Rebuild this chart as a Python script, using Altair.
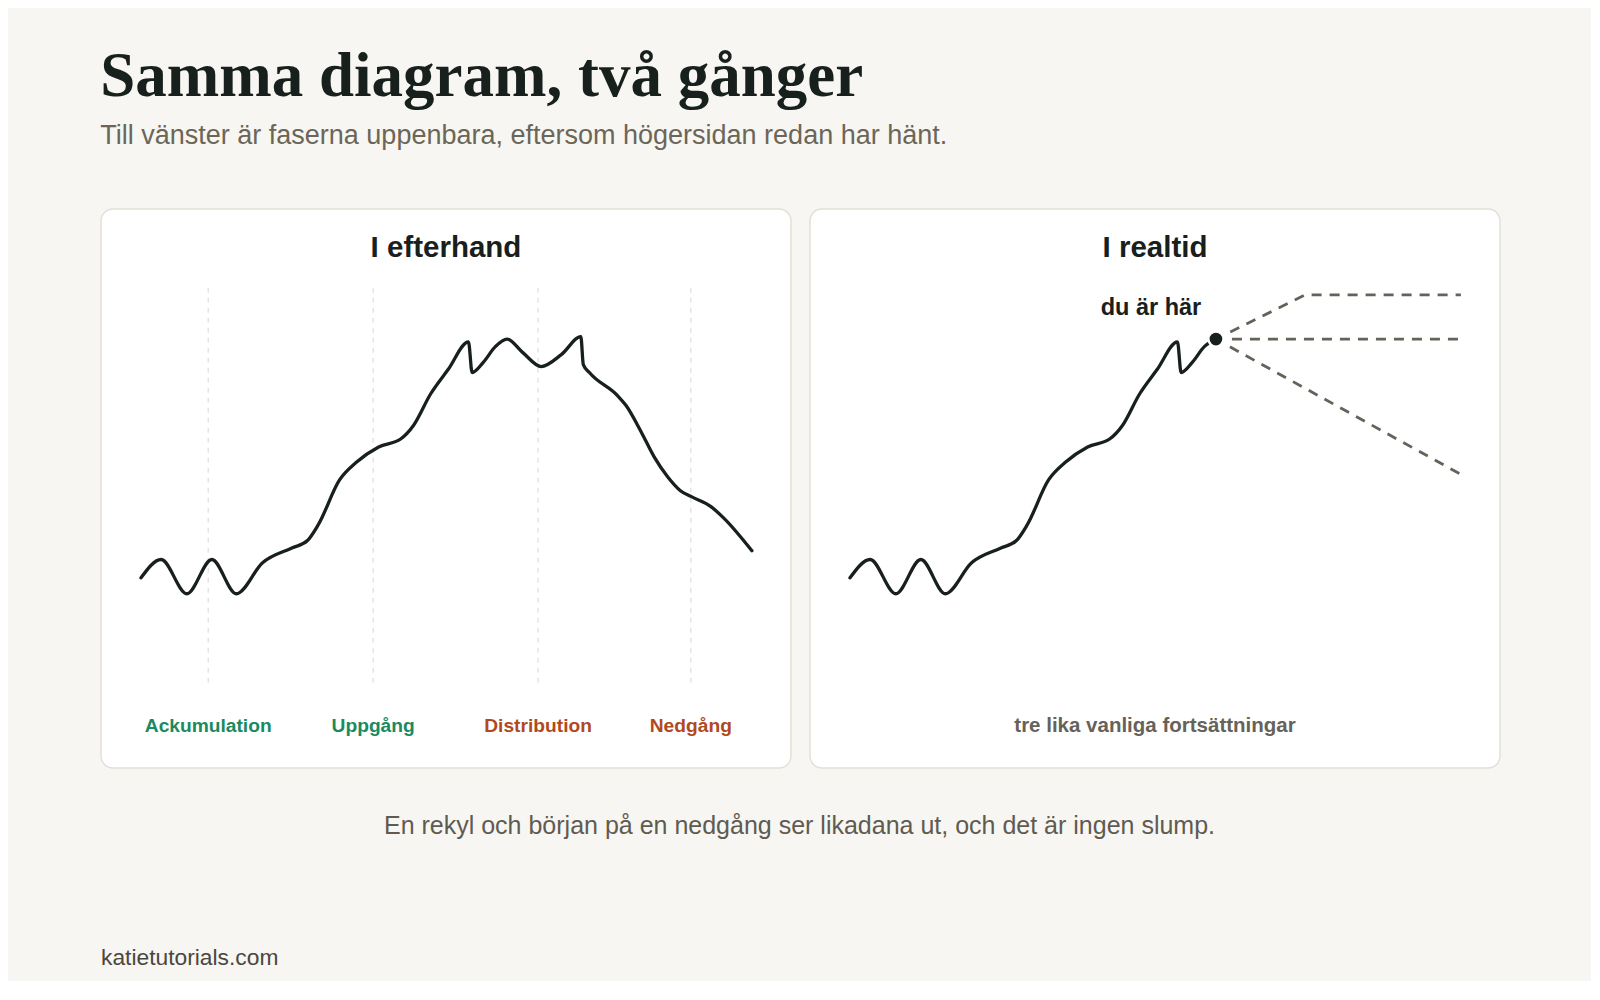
"""Same chart, twice: hindsight vs real time."""

import altair as alt
import pandas as pd

# price path (t = time 0-100, v = level 0-100)
path_t = [0, 3.3, 7.5, 11.6, 15.6, 19.9, 24.7, 27.2, 29.0, 32.5, 35.3, 38.9,
          42.5, 44.6, 47.4, 50.3, 53.6, 54.2, 56.0, 58.0, 59.9, 62.5, 65.5,
          68.8, 72.0, 72.4, 73.4, 78.0, 79.4, 81.9, 84.0, 86.2, 88.3, 90.1,
          93.3, 95.4, 100]
path_v = [26.4, 31.0, 22.4, 31.0, 22.4, 30.2, 33.9, 35.7, 39.7, 51.0, 55.5,
          59.3, 61.3, 64.7, 72.6, 78.8, 85.7, 78.0, 80.5, 84.5, 86.4, 83.0,
          79.5, 82.5, 87.0, 80.0, 78.0, 72.2, 69.7, 63.0, 56.8, 51.8, 48.3,
          46.8, 44.3, 41.4, 33.2]
now_t = 59.9

# phases in hindsight
phase_names = ["Ackumulation", "Uppgång", "Distribution", "Nedgång"]
phase_t = [11, 38, 65, 90]
phase_colors = ["#1a8a60", "#1a8a60", "#b04a1e", "#b04a1e"]

# three continuations from "now"
scen_id = ["upp", "upp", "upp", "flat", "flat", "ned", "ned"]
scen_t = [59.9, 74.5, 100, 59.9, 100, 59.9, 100]
scen_v = [86.4, 97.5, 97.5, 86.4, 86.4, 86.4, 52.4]

W, H = 690, 559
GAP = 17
FULL_W = 2 * W + GAP
INK = "#17201c"
MUTED = "#66625a"
SANS = "Liberation Sans"

xs = alt.Scale(domain=[-6.55, 106.4], nice=False, zero=False)
ys = alt.Scale(domain=[-21.4, 119.1], nice=False, zero=False)

df_path = pd.DataFrame({"t": path_t, "v": path_v})
df_now = df_path[df_path["t"] <= now_t]
df_dot = df_path[df_path["t"] == now_t].assign(label="du är här")
df_phase = pd.DataFrame({"name": phase_names, "t": phase_t, "color": phase_colors})
df_phase["lo"] = 0
df_phase["hi"] = 100
df_scen = pd.DataFrame({"id": scen_id, "t": scen_t, "v": scen_v})

no_view = alt.ViewBackground(fill="transparent", stroke="transparent")


def price_line(df):
    return (
        alt.Chart(df)
        .mark_line(color=INK, strokeWidth=3.3, interpolate="monotone",
                   strokeCap="round", strokeJoin="round")
        .encode(alt.X("t:Q", scale=xs, axis=None),
                alt.Y("v:Q", scale=ys, axis=None))
    )


def card_title(text):
    return (
        alt.Chart(pd.DataFrame({"label": [text]}))
        .mark_text(font=SANS, fontSize=29.5, fontWeight="bold", color=INK,
                   baseline="middle")
        .encode(x=alt.value(W / 2), y=alt.value(39), text="label:N")
    )


def footer_text(text, height, **kw):
    return (
        alt.Chart(pd.DataFrame({"label": [text]}))
        .mark_text(font=SANS, baseline="middle", **kw)
        .encode(text="label:N")
        .properties(width=FULL_W, height=height, view=no_view)
    )


# left card: in hindsight
dividers = (
    alt.Chart(df_phase)
    .mark_rule(color="#dedede", strokeWidth=1.2, strokeDash=[5, 5])
    .encode(alt.X("t:Q", scale=xs, axis=None),
            alt.Y("lo:Q", scale=ys, axis=None), y2="hi:Q")
)
phase_labels = (
    alt.Chart(df_phase)
    .mark_text(font=SANS, fontSize=19.2, fontWeight="bold", baseline="middle")
    .encode(alt.X("t:Q", scale=xs, axis=None), y=alt.value(517),
            text="name:N", color=alt.Color("color:N", scale=None))
)
left = alt.layer(
    dividers, price_line(df_path), phase_labels, card_title("I efterhand")
).properties(width=W, height=H)

# right card: in real time
scenarios = (
    alt.Chart(df_scen)
    .mark_line(color=MUTED, strokeWidth=2.8, strokeDash=[10, 8], strokeDashOffset=2)
    .encode(alt.X("t:Q", scale=xs, axis=None),
            alt.Y("v:Q", scale=ys, axis=None), detail="id:N")
)
dot = (
    alt.Chart(df_dot)
    .mark_point(filled=True, size=230, color=INK, stroke="white",
                strokeWidth=2.5, opacity=1)
    .encode(alt.X("t:Q", scale=xs, axis=None), alt.Y("v:Q", scale=ys, axis=None))
)
here = (
    alt.Chart(df_dot)
    .mark_text(font=SANS, fontSize=23.5, fontWeight="bold", color=INK,
               dx=-65, dy=-31, baseline="middle")
    .encode(alt.X("t:Q", scale=xs, axis=None),
            alt.Y("v:Q", scale=ys, axis=None), text="label:N")
)
note_right = (
    alt.Chart(pd.DataFrame({"label": ["tre lika vanliga fortsättningar"]}))
    .mark_text(font=SANS, fontSize=20.5, fontWeight="bold", color=MUTED,
               baseline="middle")
    .encode(x=alt.value(W / 2), y=alt.value(517), text="label:N")
)
right = alt.layer(
    scenarios, price_line(df_now), dot, here, note_right, card_title("I realtid")
).properties(width=W, height=H)

# footer texts
note = footer_text(
    "En rekyl och början på en nedgång ser likadana ut, och det är ingen slump.",
    116, fontSize=25, color="#5f5b51", x=FULL_W / 2, y=56,
)
site = footer_text(
    "katietutorials.com", 84, fontSize=22.8, color="#4a4740", align="left", x=0, y=70,
)

chart = (
    alt.vconcat(alt.hconcat(left, right, spacing=GAP), note, site, spacing=0)
    .properties(
        title=alt.TitleParams(
            text="Samma diagram, två gånger",
            subtitle="Till vänster är faserna uppenbara, eftersom högersidan redan har hänt.",
            anchor="start",
            font="Liberation Serif",
            fontSize=63,
            fontWeight="bold",
            color=INK,
            subtitleFont=SANS,
            subtitleFontSize=27,
            subtitleColor="#6b6658",
            subtitlePadding=14,
            offset=59,
        ),
        padding={"left": 92, "top": 38, "right": 90, "bottom": 8},
        background="#f7f6f2",
    )
    .configure_view(fill="white", stroke="#e2dfd6", strokeWidth=1.5, cornerRadius=12)
)

chart.save("out.html", embed_options={"renderer": "svg", "actions": False})
